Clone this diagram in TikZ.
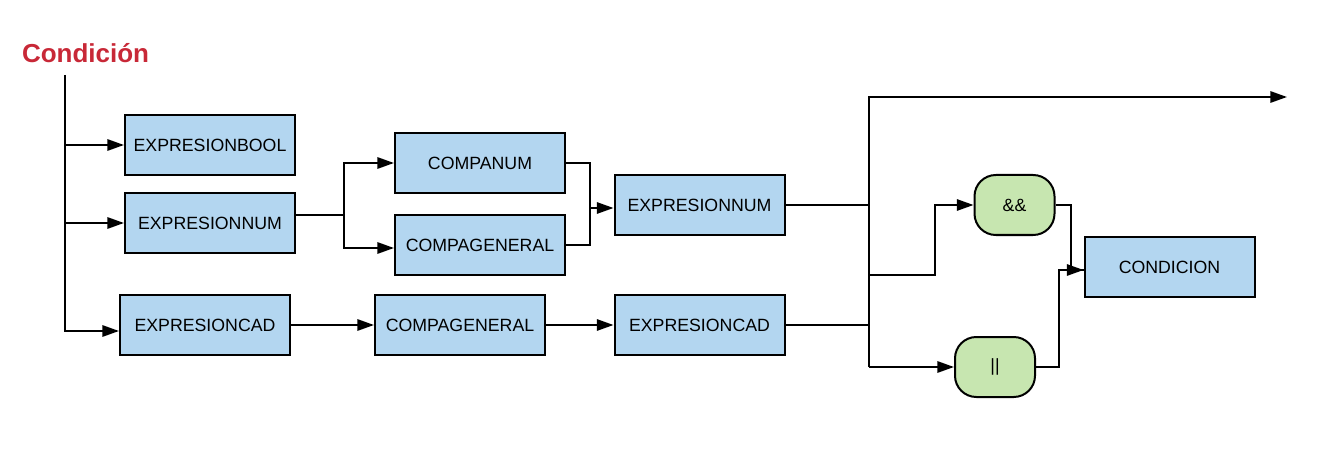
\documentclass[tikz,border=0pt]{standalone}
\usepackage{fontspec}
\setmainfont{Liberation Sans}
\usetikzlibrary{arrows.meta,calc}
\definecolor{boxblue}{RGB}{179,214,240}
\definecolor{boxgreen}{RGB}{199,230,176}
\definecolor{titlered}{RGB}{200,40,55}
\begin{document}
\begin{tikzpicture}[x=0.75pt,y=-0.75pt, line width=1.5pt,
  box/.style={draw=black, fill=boxblue, minimum width=127.5pt, minimum height=45pt, inner sep=0pt, font=\fontsize{13.3}{15}\selectfont},
  term/.style={draw=black, fill=boxgreen, rounded corners=16pt, minimum width=60pt, minimum height=45pt, inner sep=0pt, font=\fontsize{13.3}{15}\selectfont},
  arr/.style={-{Triangle[length=12.5pt,width=8.5pt]}},
  ]
\useasboundingbox (0,0) rectangle (1319,452);
\node[text=titlered, font=\bfseries\fontsize{19.5}{22}\selectfont, anchor=west, inner sep=0pt] (title) at (21,53) {Condición};
\node[box] (ebool) at (210,145) {EXPRESIONBOOL};
\node[box] (enum1) at (210,223) {EXPRESIONNUM};
\node[box] (ecad1) at (205,325) {EXPRESIONCAD};
\node[box] (cnum) at (480,163) {COMPANUM};
\node[box] (cgen1) at (480,245) {COMPAGENERAL};
\node[box] (enum2) at (699.5,205) {EXPRESIONNUM};
\node[box] (cgen2) at (460,325) {COMPAGENERAL};
\node[box] (ecad2) at (699.5,325) {EXPRESIONCAD};
\node[term] (and) at (1014.5,205) {\&\&};
\node[term] (or) at (995,367) {||};
\node[box] (cond) at (1169.5,267) {CONDICION};
% left trunk
\coordinate (s) at (65,75);
\draw[arr] (s) |- ($(ecad1.west)+(0,6)$);
\draw[arr] (s |- ebool.west) -- (ebool.west);
\draw[arr] (s |- enum1.west) -- (enum1.west);
% numeric branch
\coordinate (j1) at (344,215);
\draw ($(enum1.east)+(0,-8)$) -- (j1);
\draw[arr] (j1) |- (cnum.west);
\draw[arr] (j1) |- ($(cgen1.west)+(0,3)$);
\coordinate (j2) at (590,208);
\draw (cnum.east) -| (j2) |- (cgen1.east);
\draw[arr] (j2) -- (enum2.west |- j2);
% string branch
\draw[arr] (ecad1.east) -- (cgen2.west);
\draw[arr] (cgen2.east) -- (ecad2.west);
% right part
\coordinate (vb) at (869,367);
\coordinate (vt) at (1287,97);
\draw[arr] (vb) |- (vt);
\draw[arr] (vb) -- (or.west);
\draw (enum2.east) -- (enum2.east -| vb);
\draw (ecad2.east) -- (ecad2.east -| vb);
\coordinate (b1) at (869,275);
\draw[arr] (b1) -| ++(66,-70) -- (and.west);
\coordinate (cin) at ($(cond.west)+(0,3)$);
\draw (and.east) -- ++(15,0) |- (cin);
\draw[arr] (or.east) -| ($(cin)+(-25,0)$) -- (cin);
\end{tikzpicture}
\end{document}
